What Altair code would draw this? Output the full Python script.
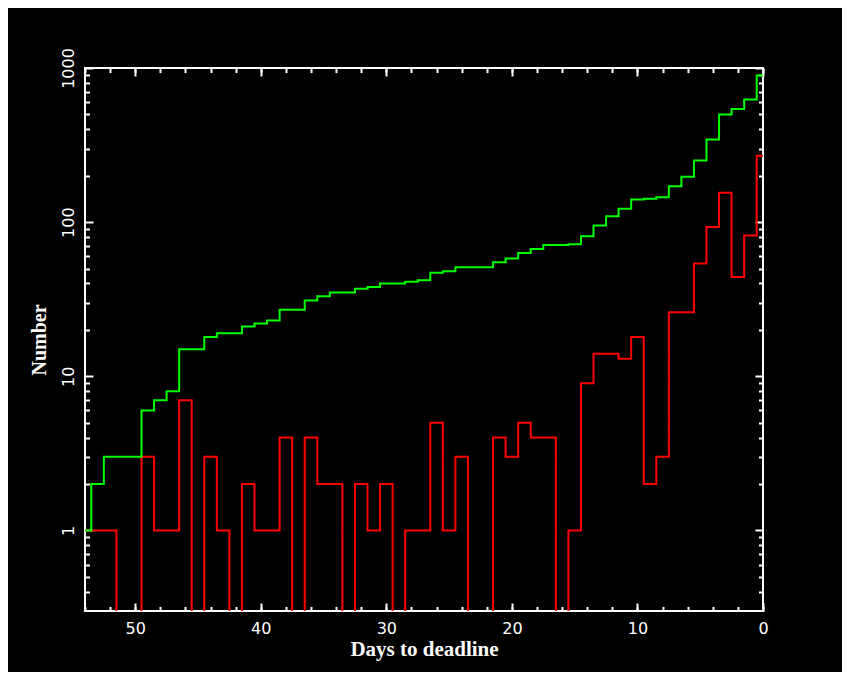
import altair as alt
import pandas as pd

# ---- data ----
days = [54, 53, 52, 51, 50, 49, 48, 47, 46, 45, 44, 43, 42, 41, 40, 39, 38, 37,
        36, 35, 34, 33, 32, 31, 30, 29, 28, 27, 26, 25, 24, 23, 22, 21, 20, 19,
        18, 17, 16, 15, 14, 13, 12, 11, 10, 9, 8, 7, 6, 5, 4, 3, 2, 1, 0]
daily = [1, 1, 1, 0, 0, 3, 1, 1, 7, 0, 3, 1, 0, 2, 1, 1, 4, 0,
         4, 2, 2, 0, 2, 1, 2, 0, 1, 1, 5, 1, 3, 0, 0, 4, 3, 5,
         4, 4, 0, 1, 9, 14, 14, 13, 18, 2, 3, 26, 26, 54, 93, 155, 44, 82, 270]
cumulative = [1, 2, 3, 3, 3, 6, 7, 8, 15, 15, 18, 19, 19, 21, 22, 23, 27, 27,
              31, 33, 35, 35, 37, 38, 40, 40, 41, 42, 47, 48, 51, 51, 51, 55, 58, 63,
              67, 71, 71, 72, 81, 95, 109, 122, 140, 142, 145, 171, 197, 251, 344, 499, 543, 625, 895]

x_major = [0, 10, 20, 30, 40, 50]
x_minor = [0, 2, 4, 6, 8, 10, 12, 14, 16, 18, 20, 22, 24, 26, 28, 30, 32, 34,
           36, 38, 40, 42, 44, 46, 48, 50, 52, 54]
y_major = [1, 10, 100, 1000]
y_minor = [0.4, 0.5, 0.6, 0.7, 0.8, 0.9, 2, 3, 4, 5, 6, 7, 8, 9,
           20, 30, 40, 50, 60, 70, 80, 90, 200, 300, 400, 500, 600, 700, 800, 900]

df = pd.DataFrame({"day": days, "daily": daily, "cum": cumulative})

W, H = 678, 543
xscale = alt.Scale(domain=[0, 54], reverse=True, nice=False, zero=False)
yscale = alt.Scale(type="log", domain=[0.3, 1000], nice=False)

LABEL_FONT = "DejaVu Sans"
TITLE_FONT = "Liberation Serif"


def tick_axis(orient, values, size, offset):
    return alt.Axis(orient=orient, values=values, tickSize=size, tickWidth=2,
                    tickColor="white", ticks=True, labels=False, domain=False,
                    grid=False, offset=offset, title=None)


x_label_axis = alt.Axis(orient="bottom", values=x_major, format="d", ticks=False,
                        tickSize=0, domain=False, grid=False, labelPadding=22,
                        labelBaseline="alphabetic", labelFont=LABEL_FONT,
                        labelFontSize=16, labelColor="white", labelFlush=False,
                        labelOverlap=False, title="Days to deadline",
                        titleFont=TITLE_FONT, titleFontWeight="bold",
                        titleFontSize=21, titleColor="white",
                        titleBaseline="alphabetic", titleY=44)
y_label_axis = alt.Axis(orient="left", values=y_major, format="d", ticks=False,
                        tickSize=0, domain=False, grid=False, labelPadding=12,
                        labelAngle=270, labelAlign="center",
                        labelBaseline="alphabetic", labelFont=LABEL_FONT,
                        labelFontSize=16, labelColor="white", labelFlush=False,
                        labelOverlap=False, title="Number",
                        titleFont=TITLE_FONT, titleFontWeight="bold",
                        titleFontSize=20, titleColor="white", titleAngle=270,
                        titleBaseline="alphabetic", titleX=-40)

base = alt.Chart(df)

red = base.transform_calculate(
    v="datum.daily > 0 ? datum.daily : 0.01"
).mark_line(interpolate="step", color="#ff0000", strokeWidth=2, clip=True).encode(
    x=alt.X("day:Q", scale=xscale, axis=x_label_axis),
    y=alt.Y("v:Q", scale=yscale, axis=y_label_axis),
)

green = base.mark_line(interpolate="step", color="#00ff00", strokeWidth=2, clip=True).encode(
    x=alt.X("day:Q", scale=xscale, title=None, axis=tick_axis("top", x_minor, 4.5, -H)),
    y=alt.Y("cum:Q", scale=yscale, title=None, axis=tick_axis("right", y_minor, 4.5, -W)),
)

ghost1 = base.mark_line(strokeOpacity=0, clip=True).encode(
    x=alt.X("day:Q", scale=xscale, title=None, axis=tick_axis("top", x_major, 8, -H)),
    y=alt.Y("cum:Q", scale=yscale, title=None, axis=tick_axis("right", y_major, 8, -W)),
)
ghost2 = base.mark_line(strokeOpacity=0, clip=True).encode(
    x=alt.X("day:Q", scale=xscale, title=None, axis=tick_axis("bottom", x_minor, 4.5, -H)),
    y=alt.Y("cum:Q", scale=yscale, title=None, axis=tick_axis("left", y_minor, 4.5, -W)),
)
ghost3 = base.mark_line(strokeOpacity=0, clip=True).encode(
    x=alt.X("day:Q", scale=xscale, title=None, axis=tick_axis("bottom", x_major, 8, -H)),
    y=alt.Y("cum:Q", scale=yscale, title=None, axis=tick_axis("left", y_major, 8, -W)),
)

chart = alt.layer(red, green, ghost1, ghost2, ghost3).resolve_axis(
    x="independent", y="independent"
).properties(
    width=W, height=H,
    padding={"left": 77, "top": 60, "right": 79, "bottom": 61},
    autosize=alt.AutoSizeParams(type="none"),
    background="black",
).configure_view(stroke="white", strokeWidth=2)

chart.save("out.html", embed_options={"renderer": "svg", "actions": False})
